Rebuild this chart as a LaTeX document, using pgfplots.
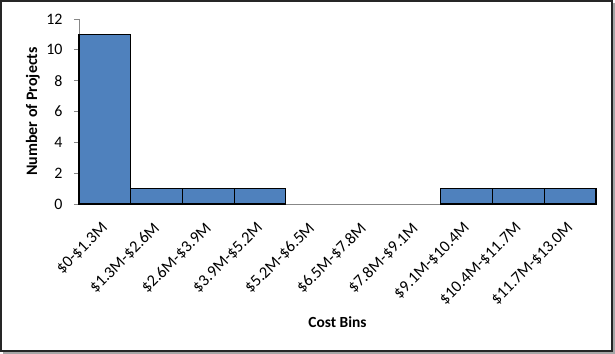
\documentclass[border=0pt]{standalone}
\usepackage{pgfplots}
\pgfplotsset{compat=1.18}
\usepackage{fontspec}
\setmainfont{Carlito}
\definecolor{barblue}{HTML}{4F81BD}
\definecolor{axgray}{HTML}{878787}
\begin{document}
\begin{tikzpicture}
\path[use as bounding box] (-79bp,-150bp) rectangle (536bp,204bp);
\fill[gray!70] (-76bp,-150bp) rectangle (536bp,201bp);
\fill[white,draw=black!85,line width=1.3bp] (-78bp,-147bp) rectangle (533bp,203bp);
\begin{axis}[
  at={(0,0)}, anchor=south west,
  scale only axis, width=517bp, height=185bp,
  xmin=0, xmax=10, ymin=0, ymax=12,
  axis x line*=bottom, axis y line*=left,
  axis line style={axgray, line width=0.9bp},
  every tick/.style={axgray, line width=0.9bp},
  tick align=outside,
  ytick={0,2,...,12},
  major tick length=5bp,
  xtick={0.42,1.42,...,9.42},
  xticklabels={\$0-\$1.3M,\$1.3M-\$2.6M,\$2.6M-\$3.9M,\$3.9M-\$5.2M,\$5.2M-\$6.5M,\$6.5M-\$7.8M,\$7.8M-\$9.1M,\$9.1M-\$10.4M,\$10.4M-\$11.7M,\$11.7M-\$13.0M},
  x tick style={draw=none},
  minor xtick={0,1,...,10},
  minor tick length=5bp,
  minor x tick style={axgray, line width=0.9bp},
  xticklabel shift=12bp,
  xticklabel style={rotate=45, anchor=north east, inner sep=0pt, font=\fontsize{16.5}{19}\selectfont},
  yticklabel shift=8bp,
  yticklabel style={font=\fontsize{16}{19}\selectfont},
  /pgf/number format/assume math mode=true,
  xlabel={Cost Bins},
  ylabel={Number of Projects},
  xlabel style={at={(axis description cs:0.5,-0.638)}, anchor=center, font=\bfseries\fontsize{15.5}{18}\selectfont},
  ylabel style={at={(axis description cs:-0.089,0.5)}, anchor=center, rotate=0, font=\bfseries\fontsize{16}{18}\selectfont},
  clip=false,
]
\addplot[ybar, bar width=1, bar shift=0, fill=barblue, draw=black, line width=1.1bp]
  coordinates {(0.5,11) (1.5,1) (2.5,1) (3.5,1) (7.5,1) (8.5,1) (9.5,1)};
\end{axis}
\end{tikzpicture}
\end{document}
